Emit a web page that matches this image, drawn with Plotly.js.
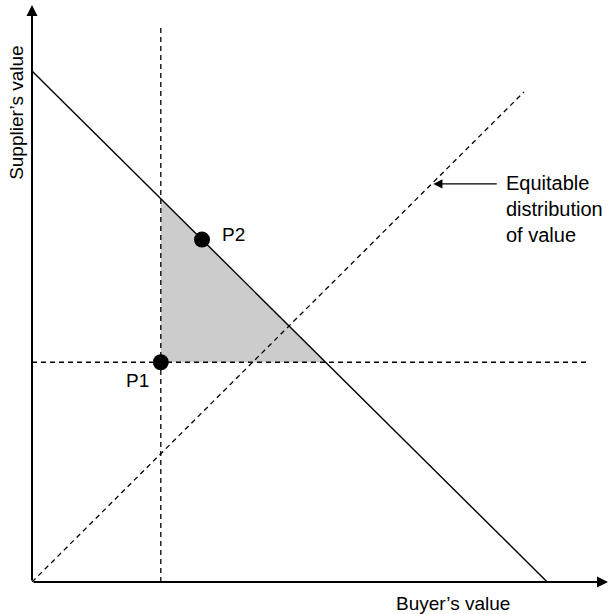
<!DOCTYPE html>
<html>
<head>
<meta charset="utf-8">
<script src="https://cdn.plot.ly/plotly-3.0.1.min.js"></script>
<style>html,body{margin:0;padding:0;background:#fff;}#chart{width:609px;height:614px;}</style>
</head>
<body>
<div id="chart"></div>
<script>
// Value frontier (solid line): buyer's value vs supplier's value
var frontierX = [0, 10];
var frontierY = [10, 0];
// Equitable distribution line (dashed diagonal)
var equitableX = [0, 9.55];
var equitableY = [0, 9.59];
// Reservation levels (dashed)
var buyerMin = 2.5;
var supplierMin = 4.3;
var vLineY = [0, 10.88];
var hLineX = [0, 10.83];
// Zone of possible agreement (shaded triangle)
var zoneX = [2.5, 2.5, 5.7, 2.5];
var zoneY = [4.3, 7.5, 4.3, 4.3];
// Points
var pointNames = ["P1", "P2"];
var pointX = [2.5, 3.3];
var pointY = [4.3, 6.7];
// Axis extents
var xMax = 11.18;
var yMax = 11.29;
// Labels
var xTitle = "Buyer\u2019s value";
var yTitle = "Supplier\u2019s value";
var noteText = "Equitable<br>distribution<br>of value";
var notePoint = [7.79, 7.79];
var noteTailX = 9.05;

var FONT = "Liberation Sans, Arial, Helvetica, sans-serif";
var dash = "5px,4px";

var traces = [
  {x: zoneX, y: zoneY, mode: "lines", fill: "toself", fillcolor: "#cccccc",
   line: {width: 0, color: "rgba(0,0,0,0)"}, hoverinfo: "skip"},
  {x: [buyerMin, buyerMin], y: vLineY, mode: "lines",
   line: {color: "#000", width: 1.3, dash: dash}},
  {x: hLineX, y: [supplierMin, supplierMin], mode: "lines",
   line: {color: "#000", width: 1.3, dash: dash}},
  {x: equitableX, y: equitableY, mode: "lines",
   line: {color: "#000", width: 1.3, dash: dash}},
  {x: frontierX, y: frontierY, mode: "lines",
   line: {color: "#000", width: 1.4}},
  {x: pointX, y: pointY, mode: "markers",
   marker: {color: "#000", size: 16}}
];

var ann = [];
// axes with arrows
ann.push({x: xMax, y: 0, ax: 0, ay: 0, xref: "x", yref: "y", axref: "x", ayref: "y",
  showarrow: true, arrowhead: 2, arrowsize: 1.1, arrowwidth: 2, arrowcolor: "#000", text: "", standoff: 0});
ann.push({x: 0, y: yMax, ax: 0, ay: 0, xref: "x", yref: "y", axref: "x", ayref: "y",
  showarrow: true, arrowhead: 2, arrowsize: 1.1, arrowwidth: 2, arrowcolor: "#000", text: "", standoff: 0});
// equitable arrow
ann.push({x: notePoint[0], y: notePoint[1], ax: noteTailX, ay: notePoint[1], xref: "x", yref: "y", axref: "x", ayref: "y",
  showarrow: true, arrowhead: 2, arrowsize: 1.4, arrowwidth: 1.3, arrowcolor: "#000", text: "", standoff: 0});
ann.push({x: 9.22, y: 7.29, xref: "x", yref: "y", text: noteText, showarrow: false, xshift: -3,
  xanchor: "left", yanchor: "middle", align: "left", font: {family: FONT, size: 20, color: "#000"}});
// point labels
ann.push({x: pointX[0], y: pointY[0], xref: "x", yref: "y", text: pointNames[0], showarrow: false,
  xanchor: "center", yanchor: "middle", xshift: -23, yshift: -18, font: {family: FONT, size: 19, color: "#000"}});
ann.push({x: pointX[1], y: pointY[1], xref: "x", yref: "y", text: pointNames[1], showarrow: false,
  xanchor: "left", yanchor: "middle", xshift: 18, yshift: 5, font: {family: FONT, size: 19, color: "#000"}});
// axis titles
ann.push({x: (453 - 32) / 576, y: 0, xref: "paper", yref: "paper", text: xTitle, showarrow: false,
  xanchor: "center", yanchor: "top", yshift: -9, font: {family: FONT, size: 19, color: "#000"}});
ann.push({x: -0.028, y: (582 - 112) / 577, xref: "paper", yref: "paper", text: yTitle, showarrow: false,
  textangle: -90, xanchor: "center", yanchor: "middle", font: {family: FONT, size: 19, color: "#000"}});

var layout = {
  width: 609, height: 614,
  margin: {l: 32, r: 1, t: 5, b: 32},
  paper_bgcolor: "#fff", plot_bgcolor: "#fff",
  showlegend: false,
  xaxis: {range: [0, xMax], visible: false, fixedrange: true},
  yaxis: {range: [0, yMax], visible: false, fixedrange: true},
  annotations: ann
};

Plotly.newPlot("chart", traces, layout, {displayModeBar: false, staticPlot: true});
</script>
</body>
</html>
